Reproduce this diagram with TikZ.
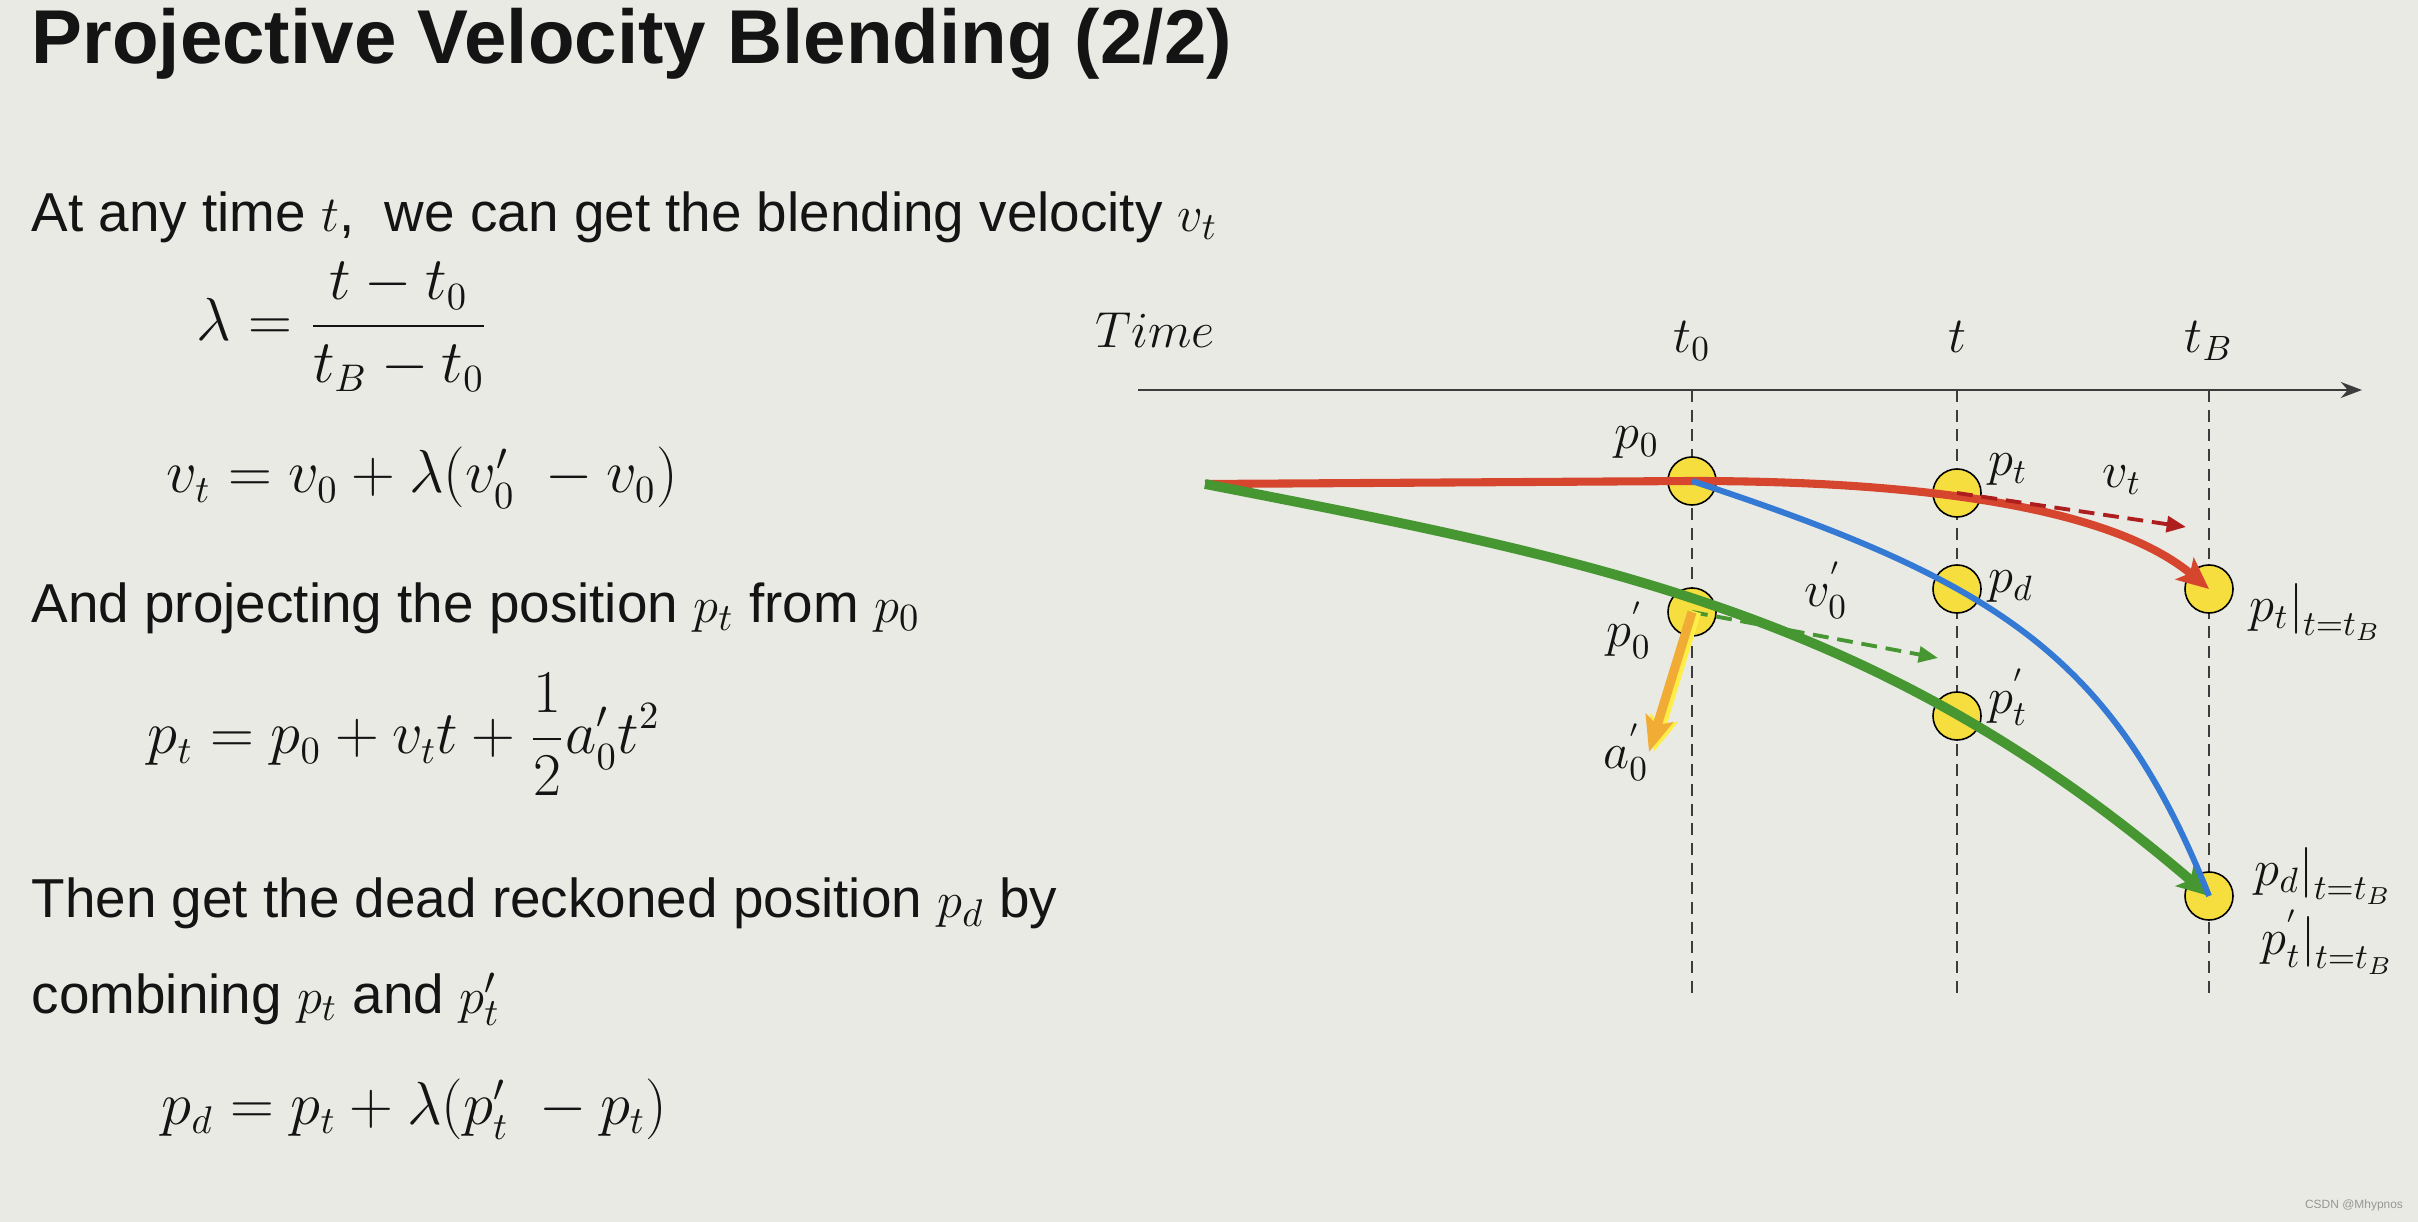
\documentclass[tikz,border=0pt]{standalone}
\usepackage{fontspec}
\setmainfont{Liberation Sans}
\usetikzlibrary{arrows.meta}

\definecolor{bgcol}{RGB}{234,234,229}
\definecolor{inkcol}{RGB}{20,20,20}
\definecolor{axiscol}{RGB}{60,60,60}
\definecolor{dotfill}{RGB}{246,222,62}
\definecolor{redpath}{RGB}{214,70,46}
\definecolor{bluepath}{RGB}{52,122,212}
\definecolor{greenpath}{RGB}{70,150,50}
\definecolor{vtred}{RGB}{175,30,30}
\definecolor{accorange}{RGB}{240,172,52}
\definecolor{accyellow}{RGB}{255,238,70}
\definecolor{markgray}{RGB}{150,150,150}

\begin{document}
\begin{tikzpicture}[x=0.01cm, y=-0.01cm,
    dot/.style={circle, draw=black, line width=0.45pt, fill=dotfill,
      minimum size=0.48cm, inner sep=0pt},
    lbl/.style={inner sep=0pt, text=inkcol, font=\fontsize{14}{16}\selectfont},
    txt/.style={anchor=base west, inner sep=0pt, text=inkcol,
      font=\fontsize{15.6}{19}\selectfont},
    eqn/.style={anchor=base west, inner sep=0pt, text=inkcol,
      font=\fontsize{16}{20}\selectfont},
    guide/.style={axiscol, line width=0.6pt, dash pattern=on 3.4pt off 2.2pt},
    tip/.style={-{Stealth[length=9pt, width=8pt, inset=2pt]}},
    dashtip/.style={line width=1.1pt, dash pattern=on 4.5pt off 2.5pt,
      -{Triangle[length=5.5pt, width=4.5pt]}},
  ]

  % --- background ---
  \useasboundingbox (0,0) rectangle (2418,1222);
  \fill[bgcol] (0,0) rectangle (2418,1222);

  % --- title and text ---
  \node[txt, font=\fontsize{21.7}{25}\selectfont\bfseries] (title) at (31,64)
    {Projective Velocity Blending (2/2)};
  \node[txt] (line1) at (31,232)
    {At any time $t$,\ \ we can get the blending velocity $v_t$};
  \node[eqn] (lameq) at (196,341)
    {$\displaystyle\lambda = \frac{t - t_0}{t_B - t_0}$};
  \node[eqn] (vteq) at (166,493) {$v_t = v_0 + \lambda(v_0'\; - v_0)$};
  \node[txt] (line2) at (31,623)
    {And projecting the position $p_t$ from $p_0$};
  \node[eqn] (pteq) at (147,754)
    {$\displaystyle p_t = p_0 + v_t t + \frac{1}{2} a_0' t^2$};
  \node[txt] (line3) at (31,917)
    {Then get the dead reckoned position $p_d$ by};
  \node[txt] (line4) at (31,1013) {combining $p_t$ and $p_t'$};
  \node[eqn] (pdeq) at (161,1124) {$p_d = p_t + \lambda(p_t'\; - p_t)$};

  % --- time axis ---
  \coordinate (axstart) at (1138,390);
  \coordinate (axend) at (2362,390);
  \draw[axiscol, line width=0.85pt, -{Stealth[length=6pt, width=4.5pt]}]
    (axstart) -- (axend);
  \node[lbl, anchor=base] (timelbl) at (1155,348) {$Time$};
  \node[lbl, anchor=base] (t0lbl) at (1692,353) {$t_0$};
  \node[lbl, anchor=base] (tlbl) at (1957,353) {$t$};
  \node[lbl, anchor=base] (tBlbl) at (2209,353) {$t_B$};

  % --- guides ---
  \foreach \x in {1692,1957,2209}
    \draw[guide] (\x,390) -- (\x,997);

  % --- positions ---
  \node[dot] (p0) at (1692,481) {};
  \node[dot] (p0p) at (1692,612) {};
  \node[dot] (pt) at (1957,493) {};
  \node[dot] (pd) at (1957,589) {};
  \node[dot] (ptp) at (1957,716) {};
  \node[dot] (ptB) at (2209,589) {};
  \node[dot] (pdB) at (2209,896) {};

  % --- paths ---
  \coordinate (origin) at (1205,484);
  \draw[redpath, line width=2.3pt, tip] (origin) -- (p0.center)
    .. controls +(250,0) and +(-92,-77) .. (ptB.center);
  \draw[greenpath, line width=2.8pt, tip] (origin)
    .. controls +(400,78) and +(-329,-282) .. (pdB.center);
  \draw[bluepath, line width=1.7pt] (p0.center)
    .. controls +(300,99) and +(-97,-244) .. (pdB.center);

  % --- velocities ---
  \coordinate (vtend) at (2186,527);
  \draw[vtred, dashtip] (pt.center) -- (vtend);
  \coordinate (v0end) at (1938,658);
  \draw[greenpath, dashtip] (p0p.center) -- (v0end);

  % --- acceleration ---
  \coordinate (a0end) at (1649,752);
  \draw[accyellow, line width=2.6pt, -{Stealth[length=10pt, width=8pt, inset=2pt]}]
    ([xshift=1.3pt]p0p.center) -- ([xshift=1.3pt]a0end);
  \draw[accorange, line width=2.6pt, -{Stealth[length=10pt, width=8pt, inset=2pt]}]
    (p0p.center) -- (a0end);

  % --- labels ---
  \node[lbl] (p0lbl) at (1637,443) {$p_0$};
  \node[lbl] (p0plbl) at (1629,630) {$p_0^{'}$};
  \node[lbl] (a0lbl) at (1626,752) {$a_0^{'}$};
  \node[lbl] (v0lbl) at (1826,590) {$v_0^{'}$};
  \node[lbl] (ptlbl) at (2008,470) {$p_t$};
  \node[lbl] (vtlbl) at (2122,480) {$v_t$};
  \node[lbl] (pdlbl) at (2011,587) {$p_d$};
  \node[lbl] (ptplbl) at (2008,697) {$p_t^{'}$};
  \node[lbl, anchor=west] (ptBlbl) at (2249,612) {$p_t\big|_{t=t_B}$};
  \node[lbl, anchor=west] (pdBlbl) at (2254,876) {$p_d\big|_{t=t_B}$};
  \node[lbl, anchor=west] (ptpBlbl) at (2261,942) {$p_t^{'}\big|_{t=t_B}$};

  % --- watermark ---
  \node[inner sep=0pt, text=markgray, font=\fontsize{3.4}{4}\selectfont]
    (mark) at (2354,1205) {CSDN @Mhypnos};

\end{tikzpicture}
\end{document}
